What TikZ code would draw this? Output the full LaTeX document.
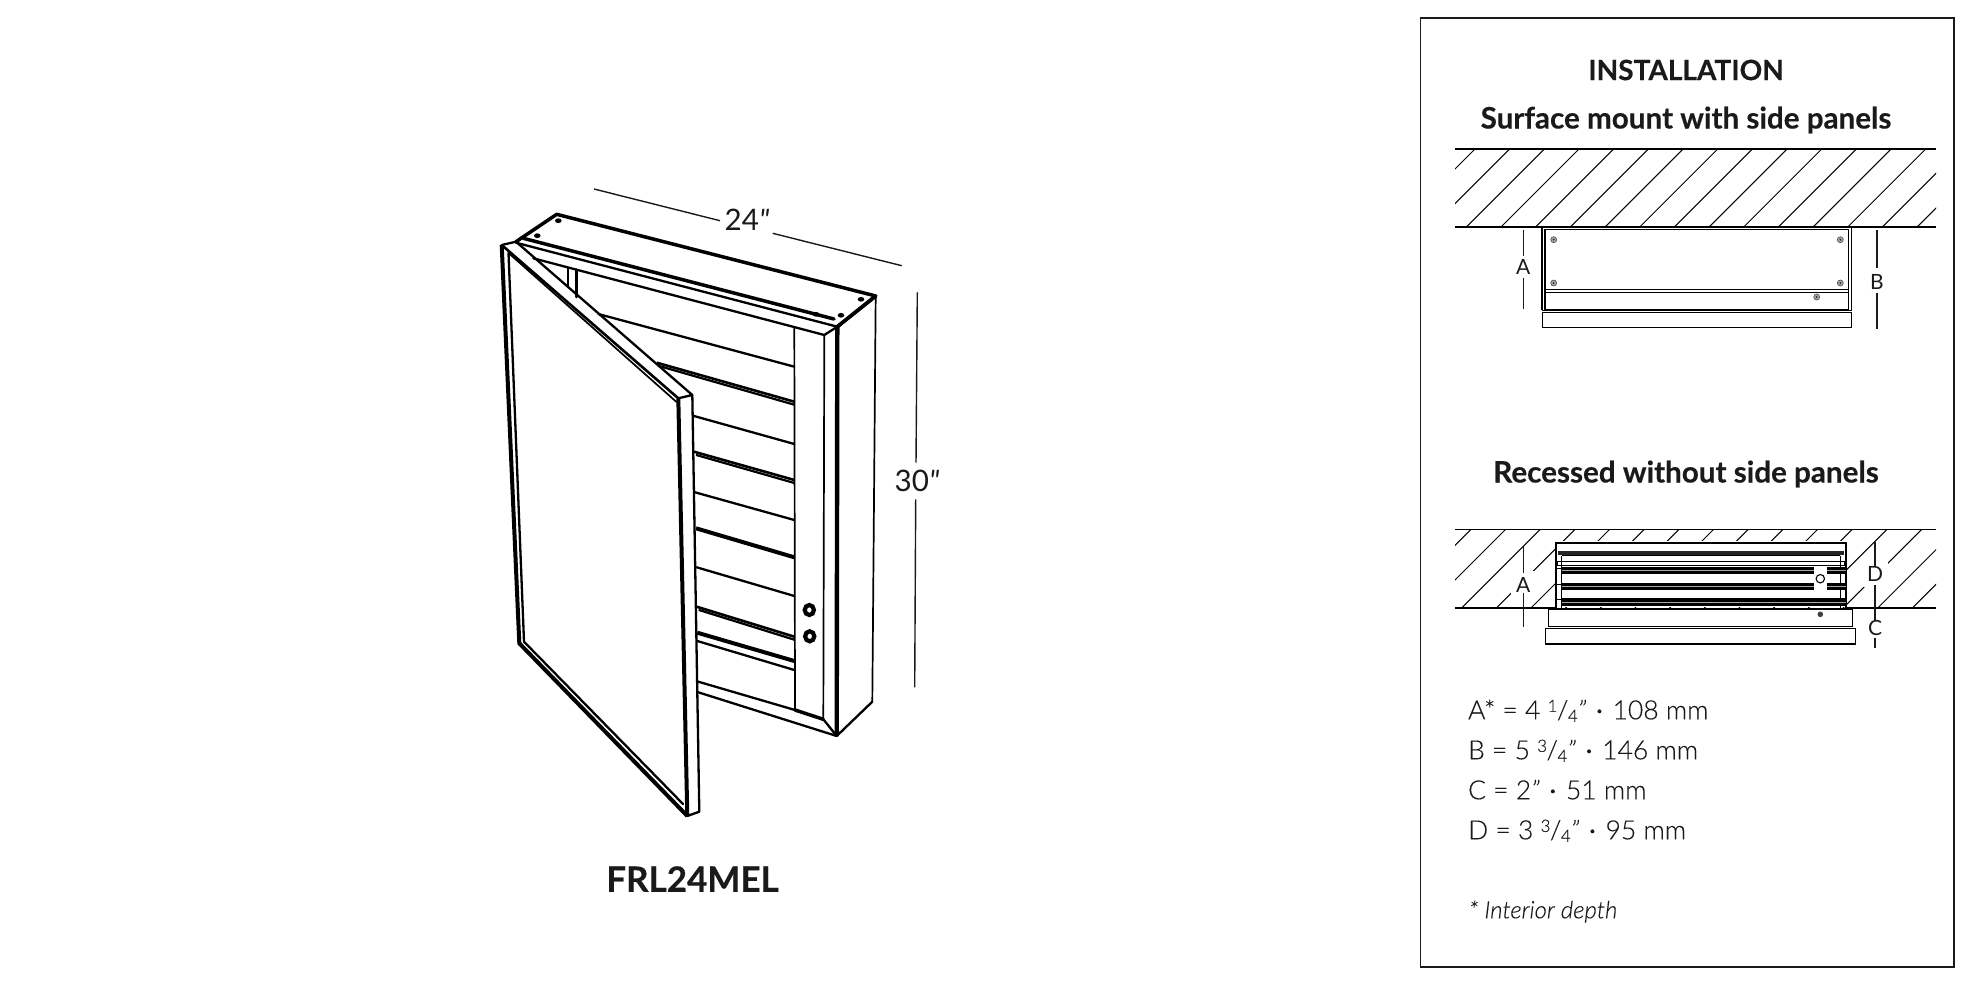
\documentclass[tikz,border=0pt]{standalone}
\usepackage{fontspec}
\setmainfont{Lato Light}[ItalicFont={Lato Light Italic},FakeBold=0.12]
\newfontfamily\dimfont{Lato}
\newfontfamily\titlefont{Lato Bold}[FakeBold=0.35]
\definecolor{ink}{HTML}{1A1A1A}
\newcommand{\inchmark}{{\itshape"}}
\newcommand{\fracpart}[2]{\raisebox{.28em}{\fontsize{8.5}{9}\selectfont #1}\kern-.02em/\kern-.02em\raisebox{-.1em}{\fontsize{8.5}{9}\selectfont #2}}
\newcommand{\middot}{\kern.42em\tikz[baseline]\fill[ink] (0,.3em) circle (1pt);\kern.42em}
\tikzset{
  heavy/.style={line width=1.75pt,line cap=round,line join=round},
  mid/.style={line width=1.15pt,line cap=round,line join=round},
  fine/.style={line width=.85pt,line cap=round,line join=round},
  dimline/.style={line width=.7pt,ink},
  hatchline/.style={line width=.5pt},
  wall/.style={line width=.8pt},
  title/.style={font=\titlefont\fontsize{14}{14}\selectfont,text=ink,inner sep=0pt},
  subtitle/.style={font=\titlefont\fontsize{14.8}{15}\selectfont,text=ink,inner sep=0pt},
  dimtext/.style={font=\dimfont\fontsize{14.8}{14.5}\selectfont,text=ink,inner sep=0pt},
  letter/.style={font=\dimfont\fontsize{10.5}{10.5}\selectfont,text=ink,inner sep=0pt},
  legend/.style={font=\fontsize{13.25}{13}\selectfont,text=ink,inner sep=0pt,anchor=base west},
  screwdot/.style={fill=black,draw=none},
  grayscrew/.style={fill=gray!70,draw=black!70,line width=.3pt},
}
\begin{document}
\begin{tikzpicture}[x=.5pt,y=-.5pt]
\useasboundingbox (0,0) rectangle (1980,990);
% ---------- cabinet ----------
\coordinate (tbl) at (556.7,214.3);
\coordinate (tbr) at (875.7,296);
\coordinate (tfr) at (837.3,326.7);
\coordinate (tfl) at (516,241.7);
\coordinate (bb) at (836.7,736);
\coordinate (br) at (872.3,701.7);
\coordinate (ifr) at (824.3,335);
\coordinate (ibr) at (823.3,719.3);
% top plate
\draw[heavy] (tfl) -- (tbl) -- (tbr) -- (tfr);
\draw[heavy] (tbr) -- (tfr);
\draw[heavy] (523.3,238.3) -- (834,319);
\draw[mid] (516,242.7) -- (tfr);
\draw[mid] (533.3,258.3) -- (ifr) -- (tfr);
% side
\draw[fine] (tbr) -- (br);
\draw[mid] (br) -- (bb);
\draw[line width=2.2pt] (tfr) -- (bb);
\draw[fine] (ifr) -- (ibr);
% bottom rail
\draw[mid] (698.3,692.3) -- (bb) -- (ibr);
\draw[mid] (698.3,681.7) -- (795,710);
\draw[heavy] (795,710) -- (ibr);
\draw[fine] (794.3,328.3) -- (795,710);
% left interior
\draw[fine] (568.3,268.3) -- (568.3,286.7);
\draw[heavy] (576.7,270) -- (576.7,296.7);
% shelves
\foreach \a/\b/\c/\d in {598.3/314/794.3/366.7, 694/416/794.3/444, 695/492.3/794.3/520, 696.7/567.3/794.3/596, 697.3/641/794.3/670}
  \draw[mid] (\a,\b) -- (\c,\d);
\foreach \a/\b/\c/\d in {656.7/362.7/794.3/401.7, 694/451.7/794.3/480, 696.7/606.7/794.3/636.7}{
  \draw[line width=1.3pt] (\a,\b) -- (\c,\d);
  \draw[line width=1.1pt] (\a+2,\b+3.2) -- (\c,\d+3);
}
\foreach \a/\b/\c/\d in {696/528.3/794.3/557.3, 697.3/632.7/794.3/661}
  \draw[line width=2pt] (\a,\b) -- (\c,\d);
% knobs
\draw[line width=2.1pt] (809.3,610) ellipse (4.6 and 5);
\draw[line width=2.1pt] (809.7,636.3) ellipse (4.6 and 5);
% screws
\foreach \p in {(558.3,220.7),(537.3,235.7),(861,299.3),(816,314.3),(841,315.3)}
  \fill[screwdot] \p ellipse (3.3 and 2.4);
% door
\coordinate (dtl) at (501.7,245);
\coordinate (dtl2) at (516,241.7);
\coordinate (dtr) at (678.3,398.3);
\coordinate (dtr2) at (692.3,395);
\coordinate (dbr) at (687.3,816);
\coordinate (dbr2) at (699.3,811.7);
\coordinate (dbl) at (519.3,643.3);
\coordinate (dil) at (508.5,253);
\coordinate (dib) at (524,641.7);
\draw[mid] (dtl) -- (dtl2) -- (dtr2) -- (dtr);
\draw[line width=1.3pt] (dtl) -- (dtr);
\draw[fine] (dil) -- (676.5,402);
\draw[line width=2pt] (dtl) -- (dbl) -- (dbr);
\draw[mid] (dil) -- (dib) -- (683,804);
\draw[line width=2pt] (dtr) -- (dbr);
\draw[mid] (dbr) -- (dbr2) -- (dtr2);
% dimensions
\coordinate (w1) at (594,189);
\coordinate (w2) at (720,220.7);
\coordinate (w3) at (772.7,233.3);
\coordinate (w4) at (901.7,265.7);
\draw[dimline] (w1) -- (w2) (w3) -- (w4);
\node[dimtext] (dimw) at (747,220) {24\inchmark};
\coordinate (h1) at (917.3,292.3);
\coordinate (h2) at (916,462.7);
\coordinate (h3) at (915.7,499.3);
\coordinate (h4) at (914.7,687.3);
\draw[dimline] (h1) -- (h2) (h3) -- (h4);
\node[dimtext] (dimh) at (917,481) {30\inchmark};
\node[font=\titlefont\fontsize{17.5}{18}\selectfont,text=ink,inner sep=0pt] (model) at (692.5,879) {FRL24MEL};
% ---------- panel ----------
\draw[line width=.85pt,ink] (1420.5,18) rectangle (1954,967);
\node[title] (ttl0) at (1686,70) {INSTALLATION};
\node[subtitle] (ttl1) at (1686,120) {Surface mount with side panels};
\node[subtitle] (ttl2) at (1686,474) {Recessed without side panels};
% surface mount
\begin{scope}
\clip (1455,149) rectangle (1936,227);
\foreach \k in {0,...,15}
  \draw[hatchline] (1475+34.67*\k,149) -- (1475+34.67*\k-80,229);
\end{scope}
\draw[wall] (1455,149) -- (1936,149);
\draw[wall] (1455,227) -- (1936,227);
\draw[line width=.7pt] (1542,227) -- (1542,310) (1851.7,310) -- (1851.7,227);
\draw[line width=.55pt] (1545,229.3) rectangle (1848.7,310);
\draw[line width=.35pt] (1545,289) -- (1848.7,289);
\draw[line width=.6pt] (1545,292.5) -- (1848.7,292.5);
\draw[line width=.45pt] (1542,310) -- (1851.7,310);
\draw[line width=.45pt] (1542,312.5) rectangle (1851.7,327);
\foreach \p in {(1553.7,239.7),(1840.3,239.7),(1553.7,283),(1840.3,283),(1816.7,297)}
  \filldraw[grayscrew] \p circle (3);
\foreach \p in {(1553.7,239.7),(1840.3,239.7),(1553.7,283),(1840.3,283),(1816.7,297)}
  \fill[black!85] \p circle (1);
\draw[dimline] (1523.3,230) -- (1523.3,256) (1523.3,278.3) -- (1523.3,309);
\node[letter] (la1) at (1523.3,267) {A};
\draw[dimline] (1877,230) -- (1877,267.7) (1877,292.7) -- (1877,329);
\node[letter] (lb) at (1877,282) {B};
% recessed
\begin{scope}
\clip (1455,529.3) rectangle (1936,607.7);
\foreach \k in {-1,...,15}
  \draw[hatchline] (1471+34.67*\k,529.3) -- (1471+34.67*\k-80,609.3);
\end{scope}
\fill[white] (1555.7,541) rectangle (1846,607);
\fill[white] (1511,571) rectangle (1535,595);
\fill[white] (1863,560) rectangle (1888,587);
\draw[wall] (1455,529.3) -- (1936,529.3);
\draw[wall] (1455,607.7) -- (1555.7,607.7) (1846,607.7) -- (1936,607.7);
% recessed box
\draw[line width=.9pt] (1555.7,607.7) -- (1555.7,543.3) -- (1846,543.3) -- (1846,607.7);
\draw[line width=.45pt] (1561.7,556) -- (1561.7,607.7) (1840,556) -- (1840,607.7);
\fill[black!85] (1557.5,550.7) rectangle (1844,554.7);
\draw[line width=.45pt] (1557.5,561.7) rectangle (1844,565);
\draw[line width=.45pt] (1561.7,555) -- (1840,555);
\foreach \y in {566.7,582.7,598.3}{
  \fill[black] (1561.7,\y) rectangle (1814,\y+7.4);
  \fill[black] (1827,\y) rectangle (1845.5,\y+7.4);
  \fill[black] (1556.5,\y+1) rectangle (1561.7,\y+2);
  \draw[black!35,line width=.3pt] (1561.7,\y+3.8) -- (1814,\y+3.8);
  \draw[black!35,line width=.3pt] (1827,\y+3.8) -- (1845.5,\y+3.8);
}
\fill[black] (1814,598.3) rectangle (1827,605.7);
\draw[black!35,line width=.3pt] (1814,602.1) -- (1827,602.1);
\draw[line width=.55pt] (1820.3,578.7) circle (4.2);
\draw[line width=.55pt] (1548.3,609) rectangle (1852.7,626.7);
\draw[line width=.55pt] (1545.7,628.3) rectangle (1855.7,644);
\fill[black!75] (1820.3,614.3) circle (2.8);
\draw[dimline] (1523.3,547.3) -- (1523.3,573) (1523.3,592.7) -- (1523.3,626.7);
\node[letter] (la2) at (1523.3,585) {A};
\draw[dimline] (1875,542.3) -- (1875,566.7) (1875,585) -- (1875,620) (1875,638.3) -- (1875,648.3);
\node[letter] (ld) at (1875,574) {D};
\node[letter] (lc) at (1875,628) {C};
% legend
\node[legend] (l1) at (1467.7,719.3) {A* = 4 \fracpart{1}{4}\inchmark\middot 108 mm};
\node[legend] (l2) at (1467.7,759.3) {B = 5 \fracpart{3}{4}\inchmark\middot 146 mm};
\node[legend] (l3) at (1467.7,799.3) {C = 2\inchmark\middot 51 mm};
\node[legend] (l4) at (1467.7,839.3) {D = 3 \fracpart{3}{4}\inchmark\middot 95 mm};
\node[legend,font=\fontsize{12}{11}\selectfont\itshape] (l5) at (1468.5,918.3) {* Interior depth};
\end{tikzpicture}
\end{document}
